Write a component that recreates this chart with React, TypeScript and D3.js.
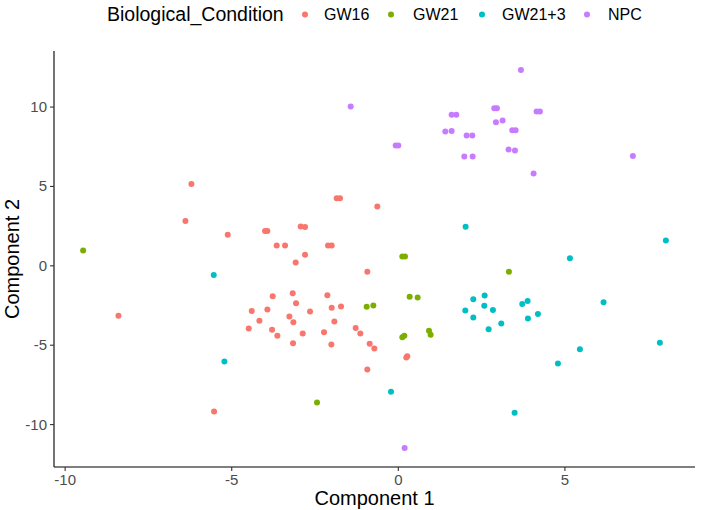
import React from "react";
import * as d3 from "d3";

const groups = ["GW16", "GW21", "GW21+3", "NPC"];
const colors = ["#F8766D", "#7CAE00", "#00BFC4", "#C77CFF"];

const gw16X = [-6.21, -6.39, -5.12, -1.85, -1.75, -0.63, -4.0, -3.93, -2.93, -2.8, -3.65, -3.4, -2.11, -2.0, -2.8, -3.08, -0.93, -3.77, -3.17, -2.13, -3.07, -4.4, -3.93, -3.27, -2.65, -2.0, -1.72, -4.17, -3.15, -1.92, -4.49, -3.79, -3.63, -2.87, -2.23, -3.16, -2.01, -1.28, -1.14, -0.86, -0.72, 0.24, 0.27, -0.93, -8.4, -5.53];
const gw16Y = [5.16, 2.83, 1.95, 4.26, 4.26, 3.74, 2.2, 2.2, 2.47, 2.44, 1.28, 1.28, 1.28, 1.28, 0.69, 0.21, -0.38, -1.91, -1.72, -1.85, -2.35, -2.85, -2.75, -3.19, -2.88, -2.64, -2.56, -3.46, -3.55, -3.51, -3.95, -4.03, -4.41, -4.26, -4.18, -4.87, -4.95, -3.92, -4.26, -4.91, -5.2, -5.77, -5.69, -6.53, -3.15, -9.17];

const gw21X = [-9.46, 0.12, 0.2, 3.32, 0.34, 0.58, -0.95, -0.75, 0.12, 0.18, 0.92, 0.97, -2.44];
const gw21Y = [0.96, 0.59, 0.59, -0.38, -1.95, -2.0, -2.58, -2.5, -4.5, -4.4, -4.09, -4.34, -8.61];

const gw213X = [2.02, 8.03, 5.15, 2.25, 2.59, 2.01, 2.58, 2.84, 2.25, 2.71, 3.09, 3.72, 3.88, 3.89, 4.19, 6.16, 7.85, 5.45, 4.79, 3.49, -5.54, -5.22, -0.22];
const gw213Y = [2.46, 1.59, 0.48, -2.1, -1.87, -2.81, -2.52, -2.79, -3.25, -3.99, -3.63, -2.41, -2.22, -3.32, -3.04, -2.29, -4.85, -5.25, -6.15, -9.26, -0.57, -6.03, -7.93];

const npcX = [-1.43, 1.6, 1.74, 1.41, 1.6, -0.08, 0.0, 3.68, 2.88, 2.96, 4.15, 4.25, 2.93, 3.13, 3.42, 3.52, 2.05, 2.22, 3.31, 3.5, 1.98, 2.23, 7.04, 4.06, 0.19];
const npcY = [10.03, 9.51, 9.51, 8.46, 8.5, 7.58, 7.58, 12.34, 9.93, 9.93, 9.72, 9.72, 9.05, 9.15, 8.54, 8.54, 8.21, 8.21, 7.32, 7.26, 6.88, 6.88, 6.91, 5.81, -11.48];

const xTicks = [-10, -5, 0, 5];
const yTicks = [-10, -5, 0, 5, 10];

const seriesX = [gw16X, gw21X, gw213X, npcX];
const seriesY = [gw16Y, gw21Y, gw213Y, npcY];

export default function App() {
  const W = 701, H = 510;
  const left = 54, right = 695, top = 51, bottom = 467;
  const allX = seriesX.flat();
  const allY = seriesY.flat();
  const [xmin, xmax] = d3.extent(allX) as [number, number];
  const [ymin, ymax] = d3.extent(allY) as [number, number];
  const xe = (xmax - xmin) * 0.05;
  const ye = (ymax - ymin) * 0.05;
  const x = d3.scaleLinear().domain([xmin - xe, xmax + xe]).range([left, right]);
  const y = d3.scaleLinear().domain([ymin - ye, ymax + ye]).range([bottom, top]);

  const font = "'Liberation Sans', Arial, Helvetica, sans-serif";
  const legendItems = [
    { dot: 305, text: 324 },
    { dot: 391, text: 413 },
    { dot: 482, text: 502 },
    { dot: 587, text: 608 },
  ];

  return (
    <svg width={W} height={H} style={{ position: "absolute", left: 0, top: 0, background: "#fff" }} fontFamily={font}>
      <rect width={W} height={H} fill="#fff" />
      {/* legend */}
      <text x={107} y={21} fontSize={19.5} fill="#000">Biological_Condition</text>
      {groups.map((g, i) => (
        <g key={g}>
          <circle cx={legendItems[i].dot} cy={14.5} r={3} fill={colors[i]} />
          <text x={legendItems[i].text} y={20} fontSize={16} fill="#000">{g}</text>
        </g>
      ))}
      {/* points */}
      {seriesX.map((xs, i) =>
        xs.map((v, j) => (
          <circle key={`${i}-${j}`} cx={x(v)} cy={y(seriesY[i][j])} r={3} fill={colors[i]} />
        ))
      )}
      {/* axes */}
      <line x1={left} x2={left} y1={top} y2={bottom} stroke="#000" strokeWidth={1.1} />
      <line x1={left} x2={right} y1={bottom} y2={bottom} stroke="#000" strokeWidth={1.1} />
      {xTicks.map((t) => (
        <g key={`xt${t}`}>
          <line x1={x(t)} x2={x(t)} y1={bottom} y2={bottom + 4} stroke="#333" strokeWidth={1.1} />
          <text x={x(t)} y={bottom + 18} fontSize={15} fill="#4d4d4d" textAnchor="middle">{t}</text>
        </g>
      ))}
      {yTicks.map((t) => (
        <g key={`yt${t}`}>
          <line x1={left - 4} x2={left} y1={y(t)} y2={y(t)} stroke="#333" strokeWidth={1.1} />
          <text x={left - 7} y={y(t) + 5} fontSize={15} fill="#4d4d4d" textAnchor="end">{t}</text>
        </g>
      ))}
      <text x={(left + right) / 2} y={505} fontSize={20} fill="#000" textAnchor="middle">Component 1</text>
      <text transform={`translate(18.5, ${(top + bottom) / 2}) rotate(-90)`} fontSize={20} fill="#000" textAnchor="middle">Component 2</text>
    </svg>
  );
}
